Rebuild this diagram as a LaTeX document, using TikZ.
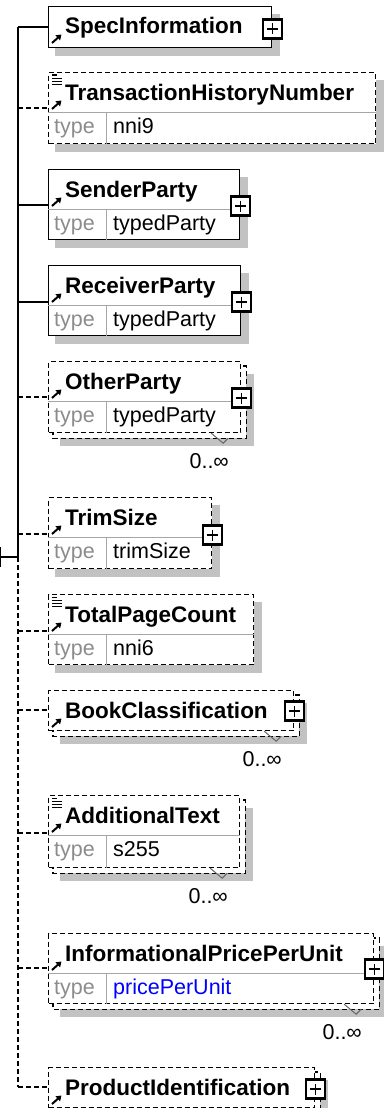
\documentclass[tikz,border=0pt]{standalone}
\usepackage{fontspec}
\setmainfont{Liberation Sans}
\usetikzlibrary{arrows.meta}
\pgfdeclarelayer{background}
\pgfsetlayers{background,main}
\definecolor{shadegray}{gray}{0.76}
\tikzstyle{elem}=[draw,line width=1.4pt,fill=white,inner sep=0pt,anchor=north west]
\tikzstyle{optelem}=[elem,line width=1.2pt,dash pattern=on 5pt off 3pt]
\tikzstyle{ename}=[font=\fontsize{22.5}{26}\selectfont\bfseries,inner sep=0pt,anchor=base west]
\tikzstyle{tname}=[font=\fontsize{21.5}{24}\selectfont,inner sep=0pt,anchor=base west]
\tikzstyle{divider}=[draw,black!35,line width=1pt]
\tikzstyle{plusbox}=[draw,line width=2.3pt,fill=white,minimum size=19pt,inner sep=0pt,
  path picture={\draw[line width=1.3pt]
    ([xshift=4pt]path picture bounding box.west) -- ([xshift=-4pt]path picture bounding box.east)
    ([yshift=-4pt]path picture bounding box.north) -- ([yshift=4pt]path picture bounding box.south);}]
\tikzstyle{conn}=[draw,line width=1.4pt]
\tikzstyle{optconn}=[conn,dash pattern=on 5pt off 3pt]

\begin{document}
\begin{tikzpicture}[x=1pt,y=-1pt]
    \useasboundingbox (0,0) rectangle (383,1108);
    % First we draw the element boxes
    \foreach \id/\top/\r/\h/\kind/\lbl in {spec/6/271/41/elem/SpecInformation,
        trans/72/375/71/optelem/TransactionHistoryNumber, send/169/239/70/elem/SenderParty,
        recv/265/240/70/elem/ReceiverParty, other/361/240/71/optelem/OtherParty,
        trim/497/211/71/optelem/TrimSize, total/594/253/70/optelem/TotalPageCount,
        book/690/293/40/optelem/BookClassification, addl/795/239/72/optelem/AdditionalText,
        info/933/373/70/optelem/InformationalPricePerUnit, prod/1067/314/40/optelem/ProductIdentification}
    {
        \node[\kind,minimum width=\r-48,minimum height=\h] (\id) at (48,\top) {};
        \node[ename] (\id-l) at ([shift={(17,28)}]\id.north west) {\lbl};
        \draw[line width=2pt,-{Triangle[length=5pt,width=6.5pt]}] ([shift={(4,37)}]\id.north west) -- ([shift={(13.5,28.5)}]\id.north west);
    }
    % Shadows and the stacked boxes behind
    \begin{pgfonlayer}{background}
        \foreach \id/\m in {spec/0, trans/0, send/0, recv/0, other/5, trim/0, total/0, book/5, addl/5, info/5, prod/5}
            \fill[shadegray] ([shift={(7+\m,8+\m)}]\id.north west) rectangle ([shift={(8+\m,8+\m)}]\id.south east);
        \foreach \id in {other, book, addl, info, prod}
            \draw[optelem] ([shift={(5,5)}]\id.north west) rectangle ([shift={(5,5)}]\id.south east);
    \end{pgfonlayer}
    % Type rows
    \foreach \id/\typ in {trans/nni9, send/typedParty, recv/typedParty, other/typedParty, trim/trimSize,
        total/nni6, addl/s255, info/{\color{blue}pricePerUnit}}
    {
        \path[divider] ([shift={(0,40)}]\id.north west) -- ([shift={(0,40)}]\id.north east);
        \path[divider] ([shift={(58,40)}]\id.north west) -- ([xshift=58pt]\id.south west);
        \node[tname,text=black!45] (\id-t) at ([shift={(6,61)}]\id.north west) {type};
        \node[tname] (\id-v) at ([shift={(65,61)}]\id.north west) {\typ};
    }
    % Simple content marks
    \foreach \id in {trans, total, addl}
        \foreach \dy/\len in {3/5, 6/10, 9/10, 12/10}
            \draw[line width=1pt] ([shift={(4,\dy)}]\id.north west) -- ++(\len,0);
    % Occurrence marks
    \foreach \id in {other, book, addl, info}
    {
        \draw[black!60,line width=1pt] ([xshift=-30pt]\id.south east) -- ++(12,10) -- ++(5,-5);
        \node[tname,anchor=base] (\id-m) at ([shift={(-32,35)}]\id.south east) {0..∞};
    }
    % Expand buttons
    \foreach \id/\dy in {spec/23, send/37, recv/37, other/37, trim/38, book/21, info/36, prod/22}
        \node[plusbox] (\id-p) at ([shift={(0,\dy)}]\id.north east) {};
    % Connect the boxes to the sequence line
    \foreach \id/\cy/\st in {spec/27/conn, trans/108/optconn, send/205/conn, recv/302/conn,
        other/397/optconn, trim/534/optconn, total/631/optconn, book/710/optconn,
        addl/833/optconn, info/968/optconn, prod/1087/optconn}
    {
        \coordinate (s-\id) at (18,\cy);
        \path[\st] (s-\id) -- (s-\id -| \id.west);
    }
    \coordinate (root) at (18,557);
    \coordinate (root-l) at (0.7,557);
    \path[conn] (s-spec) -- (root);
    \path[optconn] (root) -- (s-prod);
    \path[conn] (root-l) -- (root);
    \path[conn] ([yshift=10pt]root-l) -- ([yshift=-10pt]root-l);
\end{tikzpicture}
\end{document}
